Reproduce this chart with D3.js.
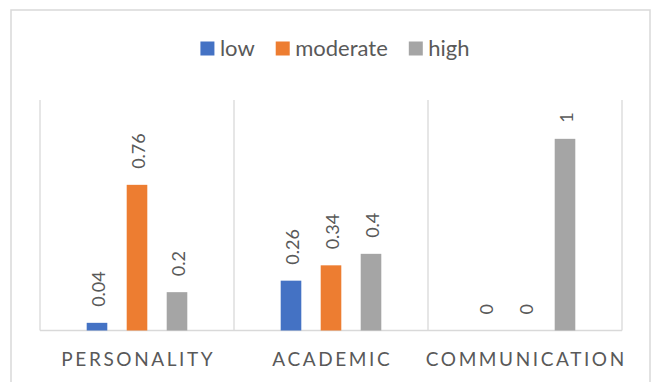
<!DOCTYPE html>
<html>
<head>
<meta charset="utf-8">
<script src="https://cdn.jsdelivr.net/npm/d3@7"></script>
<style>
  html, body { margin: 0; padding: 0; background: #fff; }
  svg { display: block; }
  text { font-family: Lato, "Open Sans", sans-serif; }
</style>
</head>
<body>
<svg id="chart" width="657" height="382"></svg>
<script>
const categories = ["PERSONALITY", "ACADEMIC", "COMMUNICATION"];
const seriesNames = ["low", "moderate", "high"];
const lowValues = [0.04, 0.26, 0];
const moderateValues = [0.76, 0.34, 0];
const highValues = [0.2, 0.4, 1];
const seriesColors = ["#4472C4", "#ED7D31", "#A5A5A5"];

const seriesValues = [lowValues, moderateValues, highValues];

const svg = d3.select("#chart");
const W = 657, H = 382;

// outer chart border
svg.append("rect")
  .attr("x", 11).attr("y", 10)
  .attr("width", 639).attr("height", 380)
  .attr("fill", "#fff")
  .attr("stroke", "#d9d9d9").attr("stroke-width", 1.5);

const plotLeft = 40, plotRight = 622, plotTop = 100.5, plotBottom = 330.5;

const x = d3.scaleBand().domain(categories).range([plotLeft, plotRight]).padding(0);
const xs = d3.scaleBand().domain(seriesNames).range([-60, 60]).paddingInner(0.485).paddingOuter(0.2425);
const y = d3.scaleLinear().domain([0, 1.2]).range([plotBottom, plotTop]);

// vertical category separators
const bounds = categories.map(c => x(c)).concat([x(categories[categories.length - 1]) + x.bandwidth()]);
svg.append("g").selectAll("line").data(bounds).join("line")
  .attr("x1", d => d).attr("x2", d => d)
  .attr("y1", plotTop - 0.5).attr("y2", plotBottom)
  .attr("stroke", "#d9d9d9").attr("stroke-width", 1.3);

// baseline axis
svg.append("line")
  .attr("x1", plotLeft).attr("x2", plotRight)
  .attr("y1", plotBottom).attr("y2", plotBottom)
  .attr("stroke", "#d9d9d9").attr("stroke-width", 1.3);

// bars
const barData = [];
seriesNames.forEach((s, si) => {
  categories.forEach((c, ci) => {
    barData.push({ s, c, v: seriesValues[si][ci], color: seriesColors[si] });
  });
});

svg.append("g").selectAll("rect").data(barData).join("rect")
  .attr("x", d => x(d.c) + x.bandwidth() / 2 + xs(d.s))
  .attr("width", xs.bandwidth())
  .attr("y", d => y(d.v))
  .attr("height", d => y(0) - y(d.v))
  .attr("fill", d => d.color);

// data labels (rotated)
const labelSize = 18;
svg.append("g").selectAll("text").data(barData).join("text")
  .attr("transform", d => {
    const cx = x(d.c) + x.bandwidth() / 2 + xs(d.s) + xs.bandwidth() / 2 + 1.5 + labelSize * 0.36;
    const ty = y(d.v) - 16;
    return `translate(${cx},${ty}) rotate(-90)`;
  })
  .attr("text-anchor", "start")
  .attr("font-size", labelSize)
  .attr("fill", "#595959")
  .text(d => String(d.v));

// category labels
const catLS = 2.6;
svg.append("g").selectAll("text").data(categories).join("text")
  .attr("x", d => x(d) + x.bandwidth() / 2 + catLS / 2)
  .attr("y", 365.5)
  .attr("text-anchor", "middle")
  .attr("font-size", 19)
  .attr("letter-spacing", catLS)
  .attr("fill", "#595959")
  .text(d => d);

// legend
const legend = svg.append("g");
const items = legend.selectAll("g").data(seriesNames).join("g");
items.append("rect")
  .attr("width", 14).attr("height", 14)
  .attr("y", 41.5)
  .attr("fill", (d, i) => seriesColors[i]);
items.append("text")
  .attr("x", 19.5).attr("y", 56)
  .attr("font-size", 22)
  .attr("fill", "#595959")
  .text(d => d);
let cursor = 0;
const positions = [];
items.each(function() {
  const tw = d3.select(this).select("text").node().getComputedTextLength();
  positions.push(cursor);
  cursor += 19.5 + tw + 21;
});
const totalW = cursor - 21;
const startX = 335 - totalW / 2;
items.attr("transform", (d, i) => `translate(${startX + positions[i]},0)`);
</script>
</body>
</html>
